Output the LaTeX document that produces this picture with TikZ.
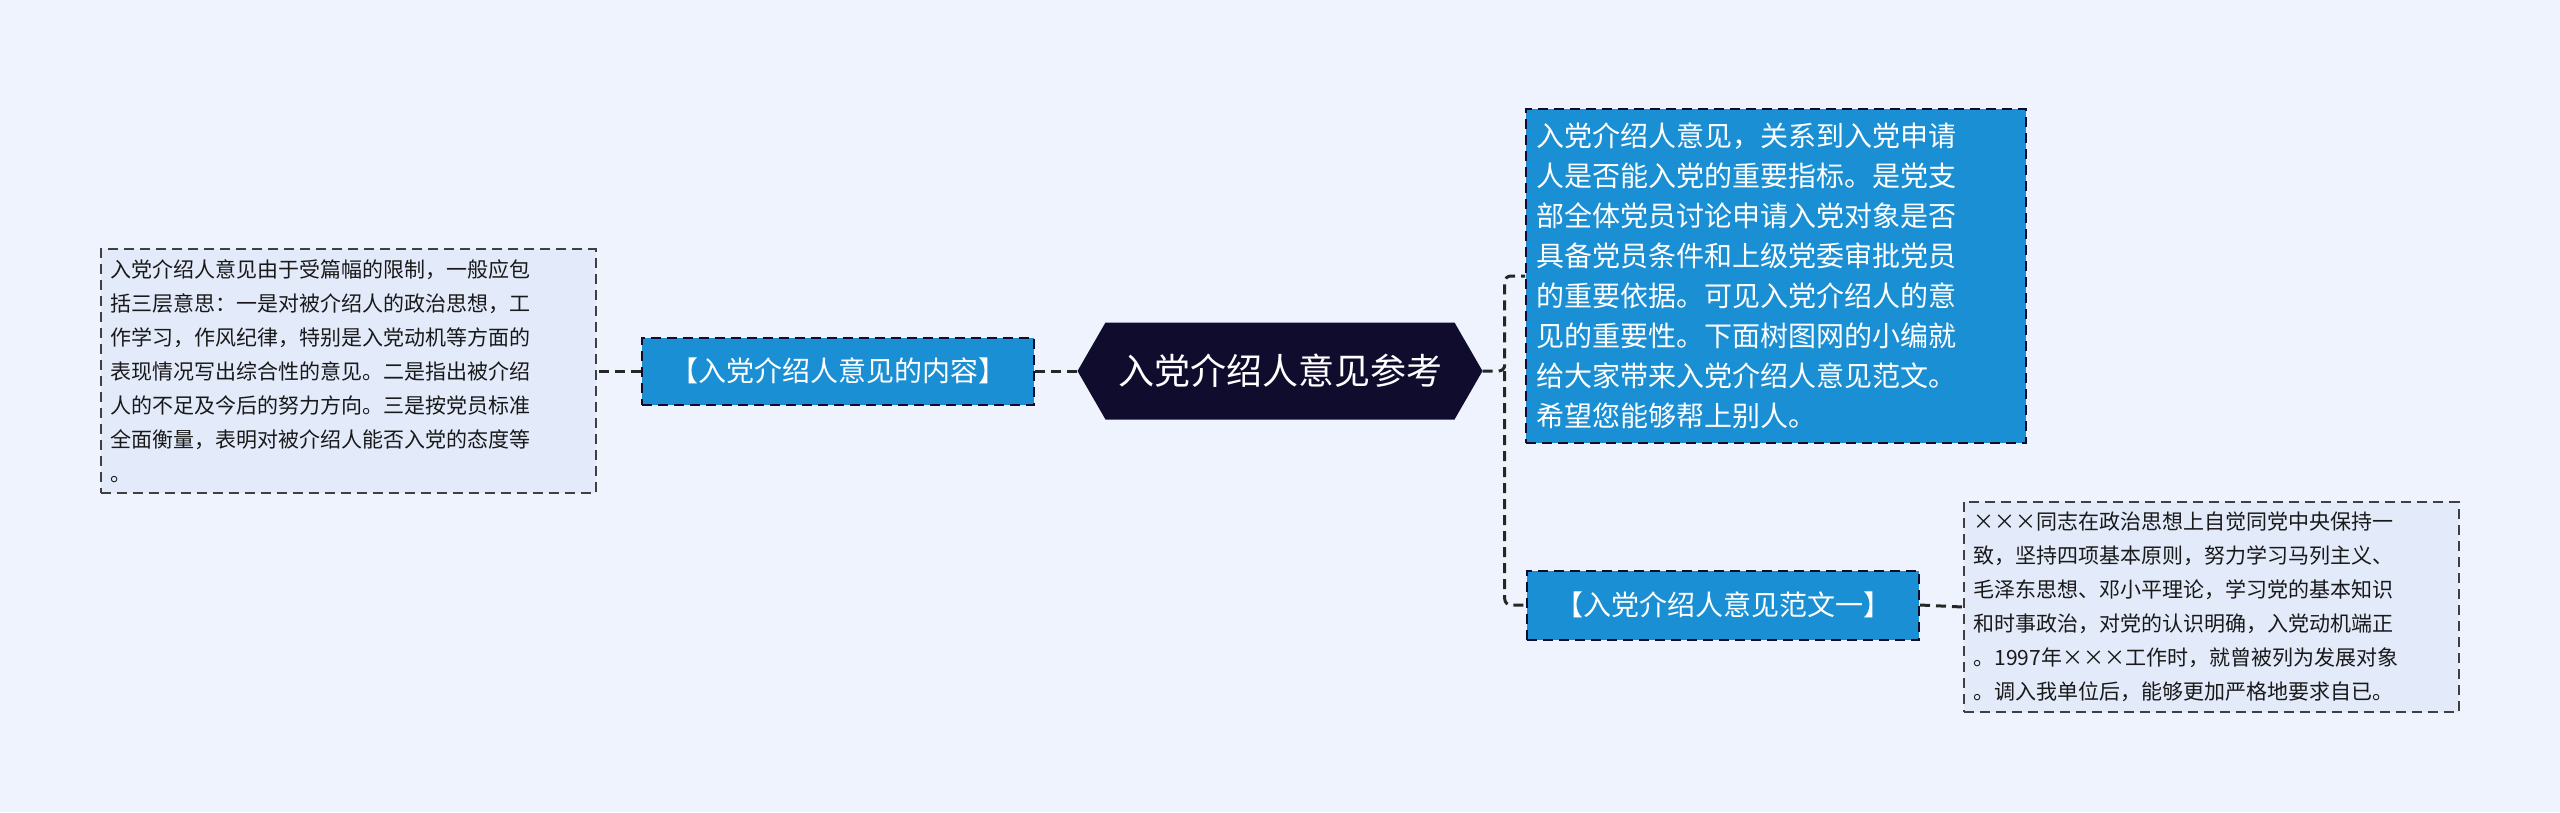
\documentclass[tikz,border=0pt]{standalone}
\usepackage{fontspec}
\setmainfont{Noto Sans CJK SC}
\usetikzlibrary{positioning,shapes.symbols}
\definecolor{bgc}{HTML}{EEF3FE}
\definecolor{navy}{HTML}{100C2E}
\definecolor{topicblue}{HTML}{1A8FD3}
\definecolor{notefill}{HTML}{E3EBFB}
\tikzset{
  dash long/.style={dash pattern=on 10pt off 6pt},
  title/.style={signal, signal to=east and west, signal pointer angle=120, fill=navy, text=white, font=\fontsize{36}{42}\selectfont, minimum width=405pt, minimum height=97pt, inner sep=0pt},
  topic/.style={draw=navy, dash long, fill=topicblue, text=white, line width=2pt, align=left},
  note/.style={draw=black!75, dash long, fill=notefill, text=black!90, line width=2pt, align=left, font=\fontsize{21}{34}\selectfont, inner sep=10pt},
  link/.style={draw=black!85, dash long, line width=3pt, rounded corners=6pt}
}
\begin{document}
\begin{tikzpicture}[x=1pt,y=-1pt]
\useasboundingbox[fill=bgc] (0,0) rectangle (2560,812);
% centre
\node[title] (main) at (1280,371) {入党介绍人意见参考};
% right side
\node[topic, font=\fontsize{28}{40}\selectfont, text width=480pt, inner xsep=10pt, inner ysep=14pt] (intro) at (1776,276) {入党介绍人意见，关系到入党申请\\人是否能入党的重要指标。是党支\\部全体党员讨论申请入党对象是否\\具备党员条件和上级党委审批党员\\的重要依据。可见入党介绍人的意\\见的重要性。下面树图网的小编就\\给大家带来入党介绍人意见范文。\\希望您能够帮上别人。};
\node[topic, font=\fontsize{28}{34}\selectfont, minimum width=392pt, minimum height=69pt] (sample) at (1723,605) {【入党介绍人意见范文一】};
\node[note, text width=475pt] (sampletext) at (2211,607) {×××同志在政治思想上自觉同党中央保持一\\致，坚持四项基本原则，努力学习马列主义、\\毛泽东思想、邓小平理论，学习党的基本知识\\和时事政治，对党的认识明确，入党动机端正\\。1997年×××工作时，就曾被列为发展对象\\。调入我单位后，能够更加严格地要求自已。};
% left side
\node[topic, font=\fontsize{28}{34}\selectfont, minimum width=392pt, minimum height=67pt] (content) at (838,371) {【入党介绍人意见的内容】};
\node[note, text width=475pt] (contenttext) at (348,371) {入党介绍人意见由于受篇幅的限制，一般应包\\括三层意思：一是对被介绍人的政治思想，工\\作学习，作风纪律，特别是入党动机等方面的\\表现情况写出综合性的意见。二是指出被介绍\\人的不足及今后的努力方向。三是按党员标准\\全面衡量，表明对被介绍人能否入党的态度等\\。};
% connectors
\draw[link] (main.east) -- ++(22,0) coordinate (fork) |- (intro.west);
\draw[link] (fork) |- (sample.west);
\draw[link] (main.west) -- (content.east);
\draw[link] (content.west) -- (contenttext.east);
\draw[link] (sample.east) -- (sampletext.west);
\end{tikzpicture}
\end{document}
